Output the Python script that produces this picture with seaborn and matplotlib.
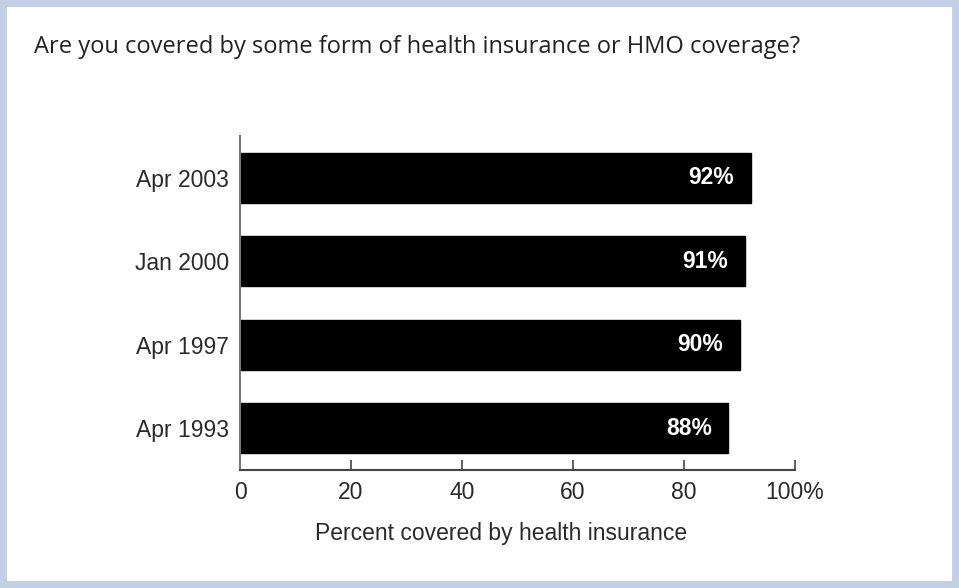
import matplotlib
matplotlib.use("Agg")
import matplotlib.pyplot as plt
import seaborn as sns
import pandas as pd
from matplotlib.patches import Rectangle

# Survey data
dates = ["Apr 2003", "Jan 2000", "Apr 1997", "Apr 1993"]
covered = [92, 91, 90, 88]
ticks = [0, 20, 40, 60, 80, 100]
tick_labels = ["0", "20", "40", "60", "80", "100%"]

df = pd.DataFrame({"date": dates, "covered": covered})

sns.set_style("white")
plt.rcParams['font.family'] = ['Liberation Sans', 'DejaVu Sans']

fig = plt.figure(figsize=(9.59, 5.88), dpi=100)
ax = fig.add_axes([0.2503, 0.2007, 0.5787, 0.568])

sns.barplot(data=df, x="covered", y="date", color="black", width=0.6,
            edgecolor="black", saturation=1, ax=ax)

# value labels inside bars
for i, v in enumerate(covered):
    ax.text(v - 3, i, f"{v}%", color="white", fontsize=16.5, fontweight="bold",
            ha="right", va="center")

ax.set_xlim(0, 100)
ax.set_xticks(ticks)
ax.set_xticklabels(tick_labels)
ax.set_ylabel("")
ax.set_xlabel("Percent covered by health insurance", fontsize=16.5, color="#2a2a2a")
ax.xaxis.set_label_coords(0.47, -0.155)
ax.tick_params(axis="x", bottom=True, direction="in", length=7, width=1.2, color="#444444",
               labelsize=16.5, labelcolor="#2a2a2a", pad=8)
ax.tick_params(axis="y", left=False, length=0, labelsize=16.5, labelcolor="#2a2a2a", pad=8)

sns.despine(ax=ax, top=True, right=True)
ax.spines["left"].set_color("#777777")
ax.spines["left"].set_linewidth(1.5)
ax.spines["bottom"].set_color("#444444")
ax.spines["bottom"].set_linewidth(1.5)

# question text
fig.text(34 / 959, 1 - 47 / 588, "Are you covered by some form of health insurance or HMO coverage?",
         fontsize=17, family=["Open Sans", "DejaVu Sans"], color="#222222",
         ha="left", va="center")

# light blue frame
fig.patches.append(Rectangle((0, 0), 1, 1, transform=fig.transFigure, fill=False,
                             edgecolor="#c3cfe4", linewidth=10, zorder=10))

fig.savefig("out.png", dpi=100)
